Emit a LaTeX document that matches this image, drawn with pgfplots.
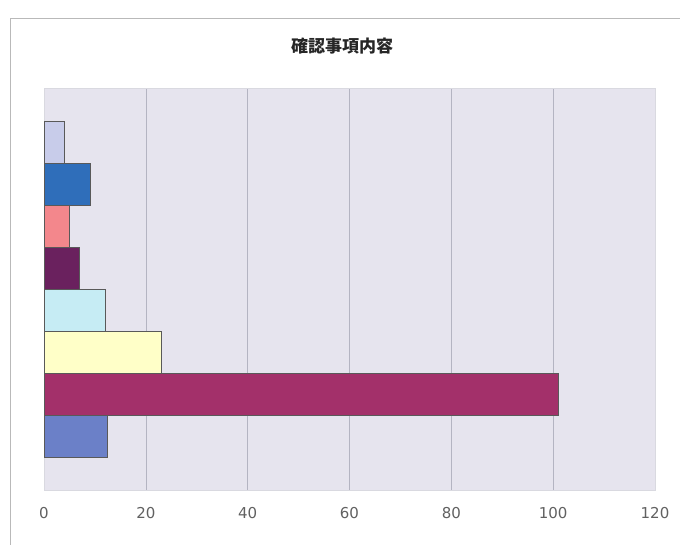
\documentclass[border=0pt]{standalone}
\usepackage{pgfplots}
\pgfplotsset{compat=1.18}
\usepackage{fontspec}
\setmainfont{DejaVu Sans}
\newfontfamily\cjk{Noto Sans CJK JP}
\definecolor{plotbg}{HTML}{E6E4EE}
\definecolor{gridc}{HTML}{B4B4C2}
\definecolor{cA}{HTML}{C8CCEA}
\definecolor{cB}{HTML}{2F6EBA}
\definecolor{cC}{HTML}{F3878C}
\definecolor{cD}{HTML}{6A215E}
\definecolor{cE}{HTML}{C6ECF4}
\definecolor{cF}{HTML}{FFFFC8}
\definecolor{cG}{HTML}{A3306A}
\definecolor{cH}{HTML}{6B80C8}
\begin{document}
\begin{tikzpicture}[x=1pt,y=1pt]
\useasboundingbox (0,0) rectangle (680,545);
\fill[white] (0,0) rectangle (680,545);
\draw[gray!55, line width=0.8pt] (10,-5) -- (10,527) -- (685,527);
\node[font=\cjk\bfseries\fontsize{17}{17}\selectfont, text=black!85] at (342,499) {確認事項内容};
\begin{axis}[
  at={(44pt,55pt)}, anchor=south west,
  scale only axis, width=611pt, height=402pt,
  xmin=0, xmax=120, ymin=-0.28, ymax=9.28,
  xbar, bar shift=0pt, bar width=1,
  axis background/.style={fill=plotbg},
  axis line style={draw=gridc!50},
  xmajorgrids, grid style={gridc, line width=0.6pt},
  xtick={0,20,...,120}, ytick=\empty,
  major tick length=0pt,
  /pgf/number format/assume math mode=true,
  xticklabel style={font=\fontsize{15}{15}\selectfont, text=black!62, yshift=-14pt},
]
\addplot[fill=cA, draw=black!65] coordinates {(4,8)};
\addplot[fill=cB, draw=black!65] coordinates {(9,7)};
\addplot[fill=cC, draw=black!65] coordinates {(5,6)};
\addplot[fill=cD, draw=black!65] coordinates {(7,5)};
\addplot[fill=cE, draw=black!65] coordinates {(12,4)};
\addplot[fill=cF, draw=black!65] coordinates {(23,3)};
\addplot[fill=cG, draw=black!65] coordinates {(101,2)};
\addplot[fill=cH, draw=black!65] coordinates {(12.5,1)};
\end{axis}
\end{tikzpicture}
\end{document}
